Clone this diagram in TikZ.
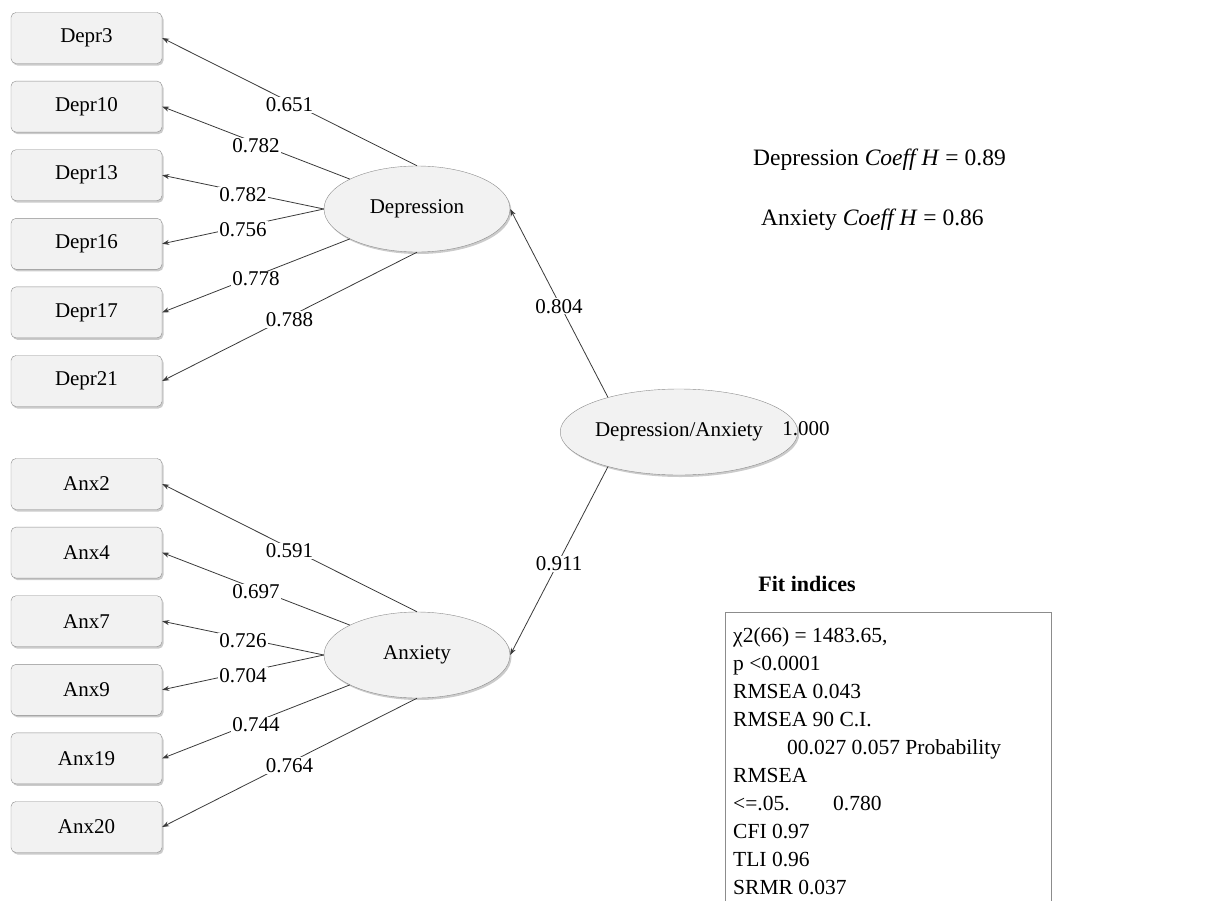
\documentclass[tikz,border=0pt]{standalone}
\usepackage{fontspec}
\setmainfont{Liberation Serif}
\usetikzlibrary{shapes.geometric,arrows.meta,shadows}
\definecolor{boxfill}{HTML}{F2F2F2}
\definecolor{boxline}{HTML}{8C8C8C}
\definecolor{wire}{HTML}{3A3A3A}
\begin{document}
\begin{tikzpicture}[x=1pt,y=-1pt,
  txt/.style={font=\fontsize{21}{25}\selectfont, text=black},
  softshadow/.style={drop shadow={shadow xshift=1.5pt, shadow yshift=-2pt, fill=black!45, opacity=0.45}},
  item/.style={txt, draw=boxline, fill=boxfill, rounded corners=5pt,
    minimum width=151pt, minimum height=51pt, inner sep=0pt, softshadow},
  factor/.style={txt, ellipse, draw=boxline, fill=boxfill,
    minimum width=186pt, minimum height=86pt, inner sep=0pt, softshadow},
  link/.style={draw=wire, line width=0.8pt, -{Stealth[length=7pt,width=5pt]}},
  coef/.style={txt, fill=white, inner sep=1pt, yshift=-3pt},
  fit/.style={font=\fontsize{21.5}{28}\selectfont, anchor=base west, inner sep=0pt}
]
\useasboundingbox (0,0) rectangle (1224,900);

% indicator boxes
\node[item] (d3)  at (86.5,38)    {Depr3};
\node[item] (d10) at (86.5,106.6) {Depr10};
\node[item] (d13) at (86.5,175.2) {Depr13};
\node[item] (d16) at (86.5,243.8) {Depr16};
\node[item] (d17) at (86.5,312.4) {Depr17};
\node[item] (d21) at (86.5,381)   {Depr21};

\node[item] (a2)  at (86.5,484)   {Anx2};
\node[item] (a4)  at (86.5,552.6) {Anx4};
\node[item] (a7)  at (86.5,621.2) {Anx7};
\node[item] (a9)  at (86.5,689.8) {Anx9};
\node[item] (a19) at (86.5,758.4) {Anx19};
\node[item] (a20) at (86.5,827)   {Anx20};

% latent factors
\node[factor] (dep) at (417,209) {Depression};
\node[factor] (anx) at (417,655) {Anxiety};
\node[factor] (da)  at (679,432) {Depression/Anxiety};
\node[txt, anchor=center] (davar) at (806,429) {1.000};

% loadings
\draw[link] (dep.north) -- node[coef] {0.651} (d3.east);
\draw[link] (dep.156)   -- node[coef] {0.782} (d10.east);
\draw[link] (dep.west)  -- node[coef] {0.782} (d13.east);
\draw[link] (dep.west)  -- node[coef] {0.756} (d16.east);
\draw[link] (dep.204)   -- node[coef] {0.778} (d17.east);
\draw[link] (dep.south) -- node[coef] {0.788} (d21.east);

\draw[link] (anx.north) -- node[coef] {0.591} (a2.east);
\draw[link] (anx.156)   -- node[coef] {0.697} (a4.east);
\draw[link] (anx.west)  -- node[coef] {0.726} (a7.east);
\draw[link] (anx.west)  -- node[coef] {0.704} (a9.east);
\draw[link] (anx.204)   -- node[coef] {0.744} (a19.east);
\draw[link] (anx.south) -- node[coef] {0.764} (a20.east);

\draw[link] (da.154) -- node[coef] {0.804} (dep.east);
\draw[link] (da.206) -- node[coef] {0.911} (anx.east);

% reliability coefficients
\node[anchor=west, inner sep=0pt, font=\fontsize{23.5}{28}\selectfont] (hdep) at (753,160)
  {Depression \textit{Coeff H} = 0.89};
\node[anchor=west, inner sep=0pt, font=\fontsize{23.5}{28}\selectfont] (hanx) at (761,220)
  {Anxiety \textit{Coeff H} = 0.86};

% fit indices panel
\node[font=\fontsize{22}{26}\selectfont\bfseries] (fittitle) at (807,584) {Fit indices};
\draw[draw=boxline, line width=0.9pt] (725,901) |- (1051,612) -- (1051,901);
\node[fit] (f1)  at (733,642) {χ2(66) = 1483.65,};
\node[fit] (f2)  at (733,670) {p <0.0001};
\node[fit] (f3)  at (733,698) {RMSEA 0.043};
\node[fit] (f4)  at (733,726) {RMSEA 90 C.I.};
\node[fit] (f5)  at (787,754) {00.027 0.057 Probability};
\node[fit] (f6)  at (733,782) {RMSEA};
\node[fit] (f7)  at (733,810) {\makebox[100pt][l]{<=.05.}0.780};
\node[fit] (f8)  at (733,838) {CFI 0.97};
\node[fit] (f9)  at (733,866) {TLI 0.96};
\node[fit] (f10) at (733,894) {SRMR 0.037};
\end{tikzpicture}
\end{document}
